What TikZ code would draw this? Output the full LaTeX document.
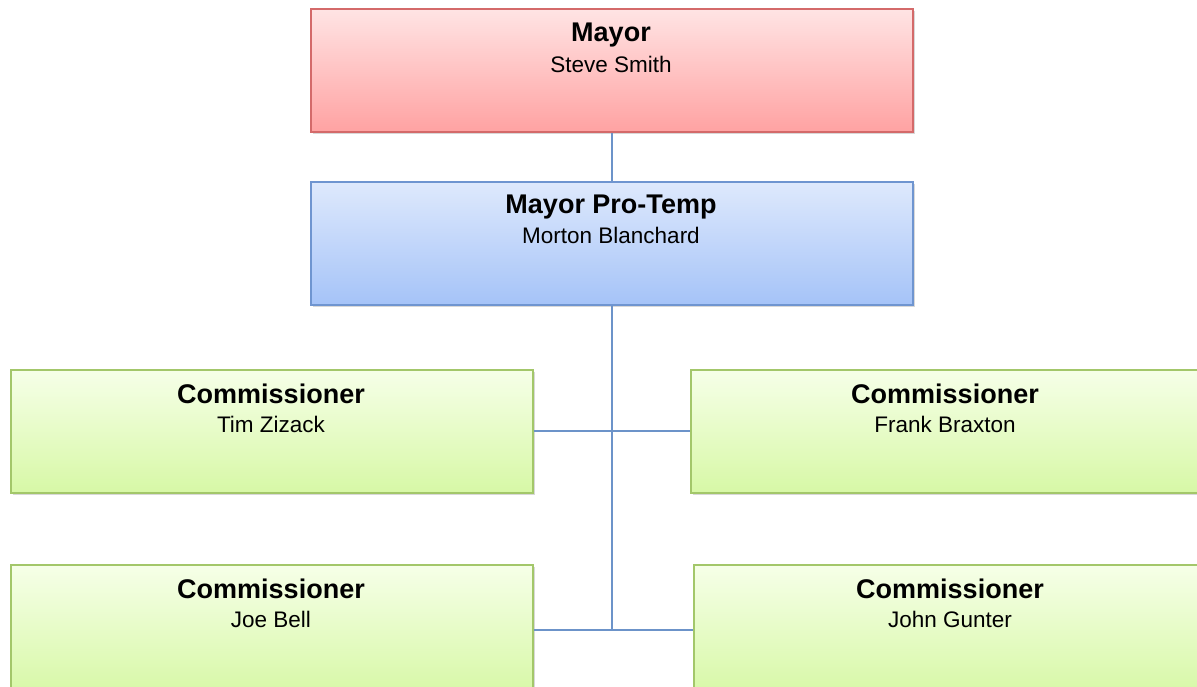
\documentclass[tikz,border=0pt]{standalone}
\usepackage{fontspec}
\setmainfont{Liberation Sans}
\usetikzlibrary{shadows}
\definecolor{redtop}{HTML}{FFE4E4}
\definecolor{redbot}{HTML}{FFA2A2}
\definecolor{redline}{HTML}{D46A6A}
\definecolor{bluetop}{HTML}{DEE9FC}
\definecolor{bluebot}{HTML}{A5C3F8}
\definecolor{blueline}{HTML}{6F95D0}
\definecolor{greentop}{HTML}{F6FFE8}
\definecolor{greenbot}{HTML}{D7F8A6}
\definecolor{greenline}{HTML}{A3C76A}
\definecolor{connline}{HTML}{6C93C9}
\tikzset{
  box/.style={line width=1.7pt, minimum height=123pt, anchor=north west, inner sep=0pt,
    drop shadow={shadow xshift=2pt, shadow yshift=-2.5pt, opacity=0.25, fill=black!60}},
  redbox/.style={box, draw=redline, top color=redtop, bottom color=redbot},
  bluebox/.style={box, draw=blueline, top color=bluetop, bottom color=bluebot},
  greenbox/.style={box, draw=greenline, top color=greentop, bottom color=greenbot},
  ttl/.style={font=\bfseries\fontsize{27}{27}\selectfont, anchor=base, inner sep=0pt},
  sub/.style={font=\fontsize{22.5}{22.5}\selectfont, anchor=base, inner sep=0pt},
  conn/.style={draw=connline, line width=1.9pt}
}
\begin{document}
\begin{tikzpicture}[x=1pt,y=-1pt]
\clip (0,0) rectangle (1197,686);
\fill[white] (0,0) rectangle (1197,686);
\node[redbox, minimum width=602pt] (mayor) at (310,8) {};
\node[bluebox, minimum width=602pt] (pro) at (310,181) {};
\node[greenbox, minimum width=522pt] (tim) at (10,369) {};
\node[greenbox, minimum width=512pt] (frank) at (690,369) {};
\node[greenbox, minimum width=522pt, minimum height=130pt] (joe) at (10,564) {};
\node[greenbox, minimum width=514pt, minimum height=130pt] (john) at (693,564) {};
\coordinate (row) at (0,630);
\coordinate (jn) at (pro.south |- row);
\coordinate (jl) at (joe.east |- row);
\coordinate (jr) at (john.west |- row);
\draw[conn] (mayor.south) -- (pro.north);
\draw[conn] (pro.south) -- (jn);
\draw[conn] (tim.east) -- (frank.west);
\draw[conn] (jl) -- (jr);
\node[ttl] (mayor-t) at (611,41) {Mayor};
\node[sub] (mayor-s) at (611,72) {Steve Smith};
\node[ttl] (pro-t) at (611,213) {Mayor Pro-Temp};
\node[sub] (pro-s) at (611,243) {Morton Blanchard};
\node[ttl] (tim-t) at (271,403) {Commissioner};
\node[sub] (tim-s) at (271,432) {Tim Zizack};
\node[ttl] (frank-t) at (945,403) {Commissioner};
\node[sub] (frank-s) at (945,432) {Frank Braxton};
\node[ttl] (joe-t) at (271,598) {Commissioner};
\node[sub] (joe-s) at (271,627) {Joe Bell};
\node[ttl] (john-t) at (950,598) {Commissioner};
\node[sub] (john-s) at (950,627) {John Gunter};
\end{tikzpicture}
\end{document}
